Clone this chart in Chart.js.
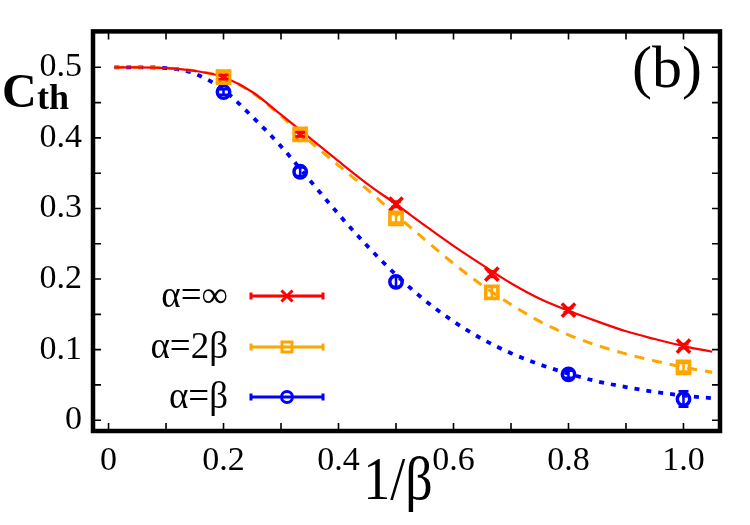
<!DOCTYPE html>
<html><head><meta charset="utf-8">
<script src="https://cdn.jsdelivr.net/npm/chart.js@4.4.1/dist/chart.umd.min.js"></script>
<style>html,body{margin:0;padding:0;background:#fff}#wrap{width:750px;height:525px;position:relative}</style>
</head><body><div id="wrap"><canvas id="c"></canvas></div>
<script>
// ---- data ----
const seriesNames = ['α=∞', 'α=2β', 'α=β'];
const redX = [0.2, 1/3, 0.5, 2/3, 0.8, 1.0];
const redY = [0.486, 0.405, 0.306, 0.207, 0.156, 0.105];
const redErr = [0.003, 0.003, 0.004, 0.004, 0.003, 0.003];
const orangeX = [0.2, 1/3, 0.5, 2/3, 1.0];
const orangeY = [0.486, 0.405, 0.286, 0.181, 0.075];
const orangeErr = [0.004, 0.004, 0.006, 0.008, 0.006];
const blueX = [0.2, 1/3, 0.5, 0.8, 1.0];
const blueY = [0.465, 0.352, 0.196, 0.065, 0.030];
const blueErr = [0.004, 0.006, 0.007, 0.005, 0.011];
const curveX = [0.01,0.05,0.10,0.15,0.20,0.25,0.30,0.35,0.40,0.45,0.50,0.55,0.60,0.65,0.70,0.75,0.80,0.85,0.90,0.95,1.00,1.05];
const redCurve = [0.500,0.500,0.499,0.495,0.486,0.465,0.433,0.400,0.367,0.335,0.306,0.276,0.247,0.220,0.194,0.172,0.155,0.140,0.126,0.115,0.105,0.097];
const orangeCurve = [0.500,0.500,0.499,0.495,0.486,0.464,0.431,0.395,0.361,0.327,0.291,0.256,0.222,0.191,0.164,0.140,0.121,0.106,0.094,0.084,0.075,0.068];
const blueCurve = [0.500,0.500,0.499,0.491,0.468,0.430,0.388,0.340,0.292,0.247,0.206,0.170,0.140,0.115,0.095,0.079,0.066,0.055,0.047,0.040,0.035,0.031];
const xTickValues = [0,0.1,0.2,0.3,0.4,0.5,0.6,0.7,0.8,0.9,1.0];
const xTickLabels = ['0','','0.2','','0.4','','0.6','','0.8','','1.0'];
const yTickValues = [0,0.05,0.1,0.15,0.2,0.25,0.3,0.35,0.4,0.45,0.5];
const yTickLabels = ['0','','0.1','','0.2','','0.3','','0.4','','0.5'];
const xTitle = '1/β';
const yTitleMain = 'C';
const yTitleSub = 'th';
const panelLabel = '(b)';

const RED = '#ff0000', ORANGE = '#ffa500', BLUE = '#0000ff';
const SERIF = '"Liberation Serif", "DejaVu Serif", serif';

const pts = (xs, ys) => xs.map((x, i) => ({x, y: ys[i]}));

const datasets = [
  {label: seriesNames[1], data: pts(orangeX, orangeY), showLine: false, pointStyle: 'rect', pointRadius: 8.6, borderColor: ORANGE, backgroundColor: 'rgba(0,0,0,0)', pointBorderWidth: 3.6, errs: orangeErr},
  {label: seriesNames[0], data: pts(redX, redY), showLine: false, pointStyle: 'crossRot', pointRadius: 9.4, borderColor: RED, backgroundColor: RED, pointBorderWidth: 3.6, errs: redErr},
  {label: seriesNames[2], data: pts(blueX, blueY), showLine: false, pointStyle: 'circle', pointRadius: 6.2, borderColor: BLUE, backgroundColor: 'rgba(0,0,0,0)', pointBorderWidth: 3.5, errs: blueErr},
  {label: 'fit1', data: pts(curveX, redCurve), showLine: true, pointRadius: 0, borderColor: RED, borderWidth: 2.2, cubicInterpolationMode: 'monotone'},
  {label: 'fit2', data: pts(curveX, orangeCurve), showLine: true, pointRadius: 0, borderColor: ORANGE, borderWidth: 3, borderDash: [10, 8], cubicInterpolationMode: 'monotone'},
  {label: 'fit3', data: pts(curveX, blueCurve), showLine: true, pointRadius: 0, borderColor: BLUE, borderWidth: 3.8, borderDash: [5, 7], cubicInterpolationMode: 'monotone'}
];

const errorBars = {
  id: 'errorBars',
  afterDatasetsDraw(chart) {
    const ctx = chart.ctx, xs = chart.scales.x, ys = chart.scales.y;
    chart.data.datasets.forEach(ds => {
      if (!ds.errs) return;
      ctx.save();
      ctx.strokeStyle = ds.borderColor; ctx.lineWidth = 2.5;
      ds.data.forEach((p, i) => {
        const px = xs.getPixelForValue(p.x);
        const y1 = ys.getPixelForValue(p.y + ds.errs[i]);
        const y2 = ys.getPixelForValue(p.y - ds.errs[i]);
        ctx.beginPath();
        ctx.moveTo(px, y1); ctx.lineTo(px, y2);
        ctx.moveTo(px - 5, y1); ctx.lineTo(px + 5, y1);
        ctx.moveTo(px - 5, y2); ctx.lineTo(px + 5, y2);
        ctx.stroke();
      });
      ctx.restore();
    });
  }
};

function drawMarker(ctx, style, x, y, color) {
  ctx.save();
  ctx.strokeStyle = color; ctx.lineWidth = 3;
  ctx.beginPath();
  if (style === 'crossRot') {
    ctx.moveTo(x - 5.5, y - 5.5); ctx.lineTo(x + 5.5, y + 5.5);
    ctx.moveTo(x - 5.5, y + 5.5); ctx.lineTo(x + 5.5, y - 5.5);
  } else if (style === 'rect') {
    ctx.rect(x - 5, y - 5, 10, 10);
  } else {
    ctx.arc(x, y, 5.5, 0, Math.PI * 2);
  }
  ctx.stroke();
  ctx.restore();
}

const decorations = {
  id: 'decorations',
  afterDraw(chart) {
    const ctx = chart.ctx, a = chart.chartArea, xs = chart.scales.x, ys = chart.scales.y;
    ctx.save();
    // inward ticks
    ctx.strokeStyle = '#000'; ctx.lineWidth = 1.6;
    ctx.beginPath();
    xTickValues.forEach(v => {
      const px = xs.getPixelForValue(v);
      ctx.moveTo(px, a.bottom); ctx.lineTo(px, a.bottom - 8);
      ctx.moveTo(px, a.top); ctx.lineTo(px, a.top + 8);
    });
    yTickValues.forEach(v => {
      const py = ys.getPixelForValue(v);
      ctx.moveTo(a.left, py); ctx.lineTo(a.left + 8, py);
      ctx.moveTo(a.right, py); ctx.lineTo(a.right - 8, py);
    });
    ctx.stroke();
    // frame
    ctx.lineWidth = 4.5;
    ctx.strokeRect(a.left, a.top, a.right - a.left, a.bottom - a.top);
    // legend
    const rows = [
      {ds: datasets[1], y: 296},
      {ds: datasets[0], y: 347},
      {ds: datasets[2], y: 397}
    ];
    rows.forEach(r => {
      ctx.fillStyle = '#000';
      ctx.font = '37px ' + SERIF;
      ctx.textAlign = 'right'; ctx.textBaseline = 'alphabetic';
      ctx.fillText(r.ds.label, 228, r.y + 11);
      ctx.strokeStyle = r.ds.borderColor; ctx.lineWidth = 3;
      ctx.beginPath();
      ctx.moveTo(251, r.y); ctx.lineTo(323, r.y);
      ctx.moveTo(251, r.y - 3.5); ctx.lineTo(251, r.y + 3.5);
      ctx.moveTo(323, r.y - 3.5); ctx.lineTo(323, r.y + 3.5);
      ctx.stroke();
      drawMarker(ctx, r.ds.pointStyle, 287, r.y, r.ds.borderColor);
    });
    // titles
    ctx.fillStyle = '#000';
    ctx.textAlign = 'left'; ctx.textBaseline = 'alphabetic';
    ctx.font = 'bold 48px ' + SERIF;
    ctx.fillText(yTitleMain, 2, 107);
    ctx.font = 'bold 36px ' + SERIF;
    ctx.fillText(yTitleSub, 37, 109);
    // x title, slightly stretched vertically like the reference
    ctx.save();
    ctx.translate(398, 499);
    ctx.scale(1, 1.15);
    ctx.font = '54px ' + SERIF;
    ctx.textAlign = 'center';
    ctx.fillText(xTitle, 0, 0);
    ctx.restore();
    ctx.font = '60px ' + SERIF;
    ctx.textAlign = 'right';
    ctx.fillText(panelLabel, 702, 87);
    ctx.restore();
  }
};

new Chart(document.getElementById('c'), {
  type: 'scatter',
  data: {datasets},
  options: {
    responsive: true, maintainAspectRatio: false, animation: false,
    layout: {padding: {top: 25, right: 30, left: 0, bottom: 0}},
    plugins: {legend: {display: false}, tooltip: {enabled: false}},
    scales: {
      x: {
        type: 'linear', min: -0.027, max: 1.0635,
        grid: {display: false, drawTicks: false}, border: {display: false},
        afterBuildTicks: s => { s.ticks = xTickValues.map(v => ({value: v})); },
        afterFit: s => { s.height = 94; },
        ticks: {autoSkip: false, maxRotation: 0, padding: 10, color: '#000', font: {family: SERIF, size: 34},
          callback: (v, i) => xTickLabels[i]}
      },
      y: {
        type: 'linear', min: -0.0153, max: 0.5509,
        grid: {display: false, drawTicks: false}, border: {display: false},
        afterBuildTicks: s => { s.ticks = yTickValues.map(v => ({value: v})); },
        afterFit: s => { s.width = 93; },
        ticks: {autoSkip: false, padding: 11, color: '#000', font: {family: SERIF, size: 34},
          callback: (v, i) => yTickLabels[i]}
      }
    }
  },
  plugins: [errorBars, decorations]
});
</script>
</body></html>
